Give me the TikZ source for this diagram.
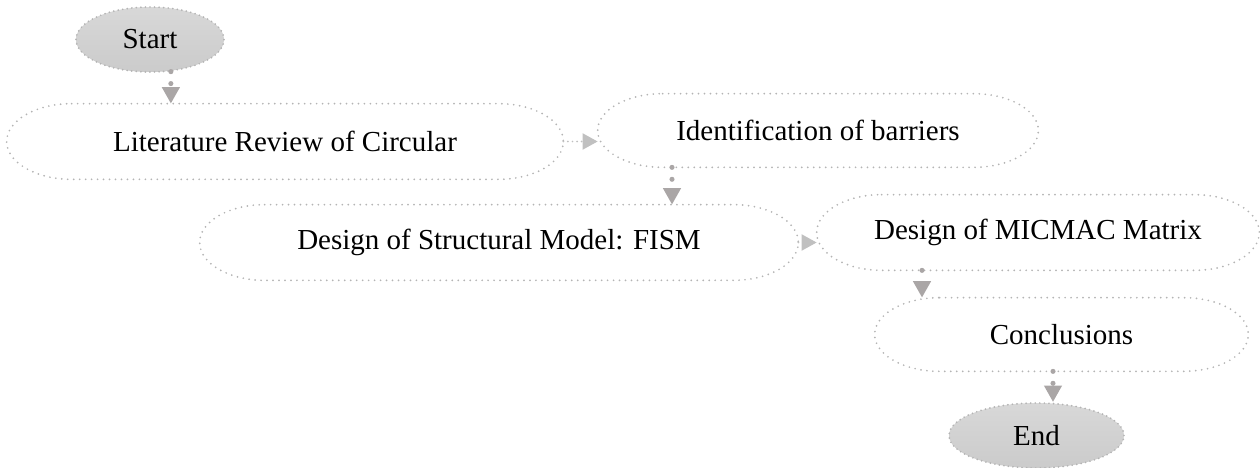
\documentclass[tikz,border=0pt]{standalone}
\usepackage{fontspec}
\setmainfont{Liberation Serif}
\usepackage{xcolor}
\definecolor{edgeGray}{RGB}{180,180,180}
\definecolor{flowGray}{RGB}{170,166,166}
\definecolor{sideGray}{RGB}{192,192,192}
\definecolor{termFill}{RGB}{203,203,203}
\usepackage{tikz}
\usetikzlibrary{arrows.meta,shapes.geometric,calc}
\tikzstyle{box}=[rectangle, inner sep=0pt, font=\fontsize{16.5}{20}\selectfont]
\tikzstyle{term}=[ellipse, draw=edgeGray, line width=1.1pt, line cap=round, dash pattern=on 0pt off 2.6pt, top color=termFill!75, bottom color=termFill, inner sep=0pt, font=\fontsize{16.5}{20}\selectfont]
\tikzstyle{outline}=[draw=edgeGray, line width=1.1pt, line cap=round, dash pattern=on 0pt off 3.4pt]
\tikzstyle{down}=[draw=flowGray, line width=2.9pt, line cap=round, dash pattern=on 0pt off 6.8pt, -{Triangle[width=0.34cm,length=0.33cm]}]
\tikzstyle{across}=[draw=sideGray, line width=1.1pt, line cap=round, dash pattern=on 0pt off 2.6pt, -{Triangle[width=0.32cm,length=0.3cm]}]

\begin{document}
\begin{tikzpicture}
  \useasboundingbox (0,0) rectangle (25.2,-9.36);
  \node[term, minimum width=2.96cm, minimum height=1.3cm] (start) at (3.0,-0.79) {Start};
  \node[box, minimum width=11.12cm, minimum height=1.5cm] (lit) at (5.70,-2.83) {Literature Review of Circular};
  \node[box, minimum width=8.8cm, minimum height=1.46cm] (ident) at (16.36,-2.61) {Identification of barriers};
  \node[box, minimum width=11.96cm, minimum height=1.5cm] (fism) at (9.98,-4.85) {Design of Structural Model: FISM};
  \node[box, minimum width=8.84cm, minimum height=1.5cm] (micmac) at (20.76,-4.65) {Design of MICMAC Matrix};
  \node[box, minimum width=7.46cm, minimum height=1.46cm] (concl) at (21.23,-6.69) {Conclusions};
  \node[term, minimum width=3.5cm, minimum height=1.3cm] (finish) at (20.73,-8.71) {End};

  \foreach \b in {lit,ident,fism,micmac,concl}
    \draw[outline] let \p1=($(\b.north)-(\b.south)$) in
      ([xshift=1.3cm]\b.north west) -- ([xshift=-1.3cm]\b.north east)
      arc[start angle=90, end angle=-90, x radius=1.3cm, y radius=0.5*\y1]
      -- ([xshift=1.3cm]\b.south west)
      arc[start angle=270, end angle=90, x radius=1.3cm, y radius=0.5*\y1] -- cycle;

  \coordinate (identout) at ([xshift=-2.92cm]ident.south);
  \coordinate (micmacout) at ([xshift=-2.32cm]micmac.south);
  \coordinate (conclout) at ([xshift=-0.17cm]concl.south);

  \draw[down] (start.-57) -- (start.-57 |- lit.north);
  \draw[down] (identout) -- (identout |- fism.north);
  \draw[down] (micmacout) -- (micmacout |- concl.north);
  \draw[down] (conclout) -- (conclout |- finish.north);
  \draw[across] (lit.east) -- (lit.east -| ident.west);
  \draw[across] (fism.east) -- (fism.east -| micmac.west);
\end{tikzpicture}
\end{document}
